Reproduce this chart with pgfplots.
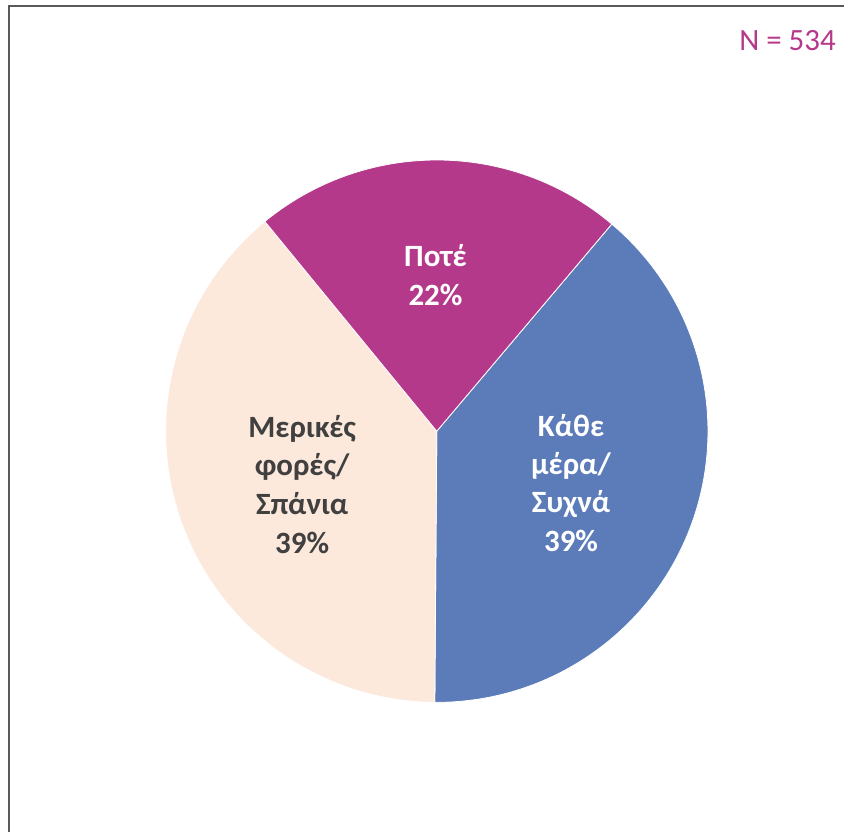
\documentclass[border=0pt]{standalone}
\usepackage{pgfplots}
\usepackage{pgfplotstable}
\pgfplotsset{compat=1.18}
\usepackage{fontspec}
\setmainfont{Carlito}
\definecolor{cPote}{HTML}{B5398A}
\definecolor{cKathe}{HTML}{5B7BB9}
\definecolor{cMeri}{HTML}{FDE9DC}
\definecolor{cText}{HTML}{404040}
\definecolor{cFrame}{HTML}{595959}
% counts per answer (N = 534)
\pgfplotstableread{
cat n
Kathe 208
Meri 208
Pote 118
}\piedata
\pgfplotstablegetelem{0}{n}\of\piedata \let\nA\pgfplotsretval
\pgfplotstablegetelem{1}{n}\of\piedata \let\nB\pgfplotsretval
\pgfplotstablegetelem{2}{n}\of\piedata \let\nC\pgfplotsretval
\pgfmathsetmacro{\tot}{\nA+\nB+\nC}
\pgfmathsetmacro{\aZero}{49.8}
\pgfmathsetmacro{\aOne}{\aZero-\nA/\tot*360}
\pgfmathsetmacro{\aTwo}{\aOne-\nB/\tot*360}
\pgfmathsetmacro{\aThree}{\aTwo-\nC/\tot*360}
\def\cx{437.3}
\def\cy{401.3}
\def\rr{271.5}
\begin{document}
\begin{tikzpicture}
\begin{axis}[
  width=845pt, height=833pt, scale only axis,
  xmin=0, xmax=845, ymin=0, ymax=833,
  hide axis, clip=false,
]
\path (axis cs:0,0) rectangle (axis cs:845,833);
\addplot[fill=cKathe, draw=white, line width=0.8pt, domain=\aOne:\aZero, samples=120, smooth]
  ({\cx+\rr*cos(x)},{\cy+\rr*sin(x)}) -- (axis cs:\cx,\cy) -- cycle;
\addplot[fill=cMeri, draw=white, line width=0.8pt, domain=\aTwo:\aOne, samples=120, smooth]
  ({\cx+\rr*cos(x)},{\cy+\rr*sin(x)}) -- (axis cs:\cx,\cy) -- cycle;
\addplot[fill=cPote, draw=white, line width=0.8pt, domain=\aThree:\aTwo, samples=80, smooth]
  ({\cx+\rr*cos(x)},{\cy+\rr*sin(x)}) -- (axis cs:\cx,\cy) -- cycle;
% frame
\draw[cFrame, line width=2pt] (axis cs:9.3,0) -- (axis cs:9.3,826.7) -- (axis cs:845,826.7);
% labels
\begin{scope}[every node/.style={font=\fontsize{31}{36}\selectfont\bfseries, inner sep=0pt, anchor=base}]
\node[text=white] at (axis cs:436,{833-267.3}) {Ποτέ};
\node[text=white] at (axis cs:436,{833-306}) {22\%};
\node[text=white] at (axis cs:571.7,{833-436.7}) {Κάθε};
\node[text=white] at (axis cs:571.7,{833-475}) {μέρα/};
\node[text=white] at (axis cs:571.7,{833-513.5}) {Συχνά};
\node[text=white] at (axis cs:571.7,{833-551.7}) {39\%};
\node[text=cText] at (axis cs:302.5,{833-437.7}) {Μερικές};
\node[text=cText] at (axis cs:302.5,{833-476}) {φορές/};
\node[text=cText] at (axis cs:302.5,{833-515}) {Σπάνια};
\node[text=cText] at (axis cs:302.5,{833-554}) {39\%};
\end{scope}
\node[text=cPote, font=\fontsize{31}{36}\selectfont, inner sep=0pt, anchor=base east] at (axis cs:837,782) {N = 534};
\end{axis}
\end{tikzpicture}
\end{document}
